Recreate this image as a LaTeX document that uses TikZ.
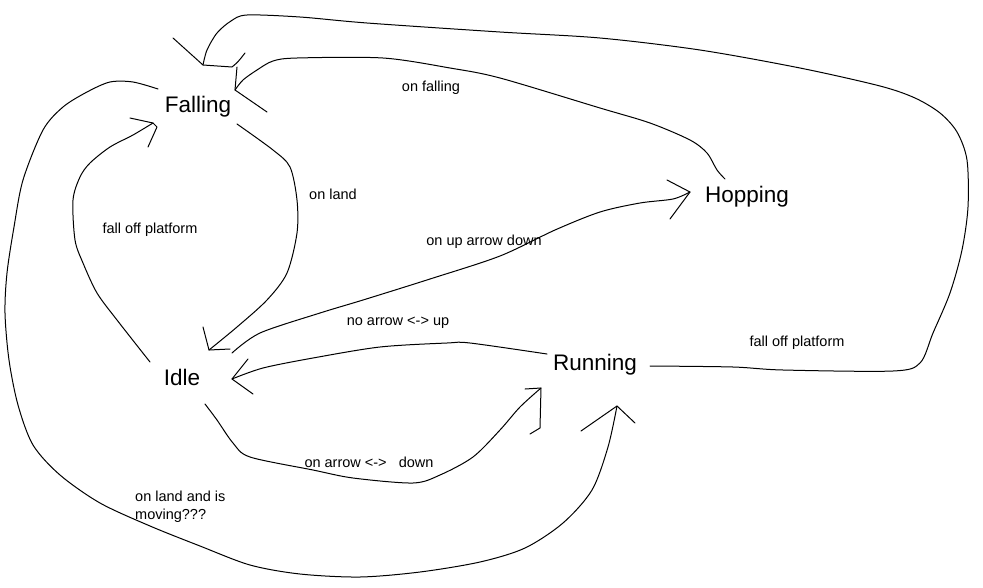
\documentclass[tikz,border=0pt]{standalone}
\usepackage{fontspec}
\setmainfont{Liberation Sans}
\begin{document}
\begin{tikzpicture}[x=1pt,y=-1pt,
  state/.style={font=\fontsize{22.5}{26}\selectfont, inner sep=0pt},
  lbl/.style={font=\fontsize{14.5}{18}\selectfont, inner sep=0pt},
  edge/.style={line width=1pt, line join=round, line cap=round},
  curve/.style={edge, smooth, tension=0.5},
]
\useasboundingbox[fill=white] (0,0) rectangle (983,587);

% states
\node[state] (falling) at (198,107) {Falling};
\node[state] (hopping) at (747,197) {Hopping};
\node[state] (idle)    at (182,377) {Idle};
\node[state] (running) at (595,365) {Running};

% labels
\node[lbl] (lOnFalling) at (431,88)  {on falling};
\node[lbl] (lOnLand)    at (333,194) {on land};
\node[lbl] (lFallL)     at (150,230) {fall off platform};
\node[lbl] (lUp)        at (484,242) {on up arrow down};
\node[lbl] (lNoArrow)   at (398,323) {no arrow <-> up};
\node[lbl] (lFallR)     at (797,343) {fall off platform};
\node[lbl] (lDown)      at (369,462) {on arrow <->\ \ \ down};
\node[lbl, anchor=west, align=left] (lMoving) at (135,507) {on land and is\\moving???};

% endpoints
\coordinate (fiS) at (237,124);  \coordinate (fiE) at (209,350);
\coordinate (ifS) at (150,362);  \coordinate (ifE) at (153,123);
\coordinate (ihS) at (232,353);  \coordinate (ihE) at (690,192);
\coordinate (riS) at (547,354);  \coordinate (riE) at (232,379);
\coordinate (irS) at (205,404);  \coordinate (irE) at (541,388);
\coordinate (frS) at (158,89);   \coordinate (frE) at (617,406);
\coordinate (rfS) at (650,366);  \coordinate (rfE) at (203,65);
\coordinate (hfS) at (725,179);  \coordinate (hfE) at (235,90);

% Falling -> Idle (on land)
\draw[curve] plot coordinates {(fiS) (273,150) (290,167) (297,200) (297,233) (287,273) (267,300) (237,327) (fiE)};
\draw[edge] (203,327) -- (fiE) -- (230,349);

% Idle -> Falling (fall off platform)
\draw[curve] plot coordinates {(ifS) (117,320) (97,293) (83,263) (75,240) (73,200) (80,177) (90,163) (110,147) (133,135) (ifE)};
\draw[edge] (130,118) -- (ifE) -- (157,127) -- (148,147);

% Idle -> Hopping (on up arrow down)
\draw[curve] plot coordinates {(ihS) (260,333) (320,313) (363,300) (430,279) (500,256) (555,230) (600,212) (640,203) (673,199) (ihE)};
\draw[edge] (667,180) -- (ihE) -- (670,219);

% Running -> Idle (no arrow <-> up)
\draw[curve] plot coordinates {(riS) (470,343) (447,343) (380,347) (313,358) (263,368) (riE)};
\draw[edge] (248,359) -- (riE) -- (253,394);

% Idle -> Running (on arrow <-> down)
\draw[curve] plot coordinates {(irS) (217,420) (233,443) (250,457) (313,470) (353,478) (413,483) (440,475) (473,457) (500,430) (520,407) (irE)};
\draw[edge] (525,389) -- (irE) -- (540,428) -- (530,434);

% Falling -> Running (on land and is moving???)
\draw[curve] plot coordinates {(frS) (133,82) (110,82) (87,92) (63,107) (43,130) (23,180) (14,227) (7,273) (5,313) (9,360) (18,405) (33,445) (60,475) (100,503) (150,526) (200,546) (250,565) (300,574) (360,577) (420,572) (480,562) (525,548) (563,523) (592,490) (608,447) (frE)};
\draw[edge] (581,431) -- (frE) -- (635,423);

% Running -> Falling (fall off platform)
\draw[curve] plot coordinates {(rfS) (733,367) (783,370) (893,371) (920,363) (933,333) (950,293) (962,250) (968,207) (967,160) (957,132) (940,113) (915,98) (880,86) (800,68) (700,50) (600,38) (500,32) (367,23) (300,17) (247,15) (231,21) (217,33) (207,50) (rfE)};
\draw[edge] (173,38) -- (rfE) -- (232,67) .. controls (238,62) .. (245,53);

% Hopping -> Falling (on falling)
\draw[curve] plot coordinates {(hfS) (717,170) (707,153) (690,140) (650,123) (600,108) (500,78) (450,68) (383,58) (297,58) (273,61) (257,70) (243,80) (hfE)};
\draw[edge] (237,67) -- (hfE) -- (267,112);
\end{tikzpicture}
\end{document}
